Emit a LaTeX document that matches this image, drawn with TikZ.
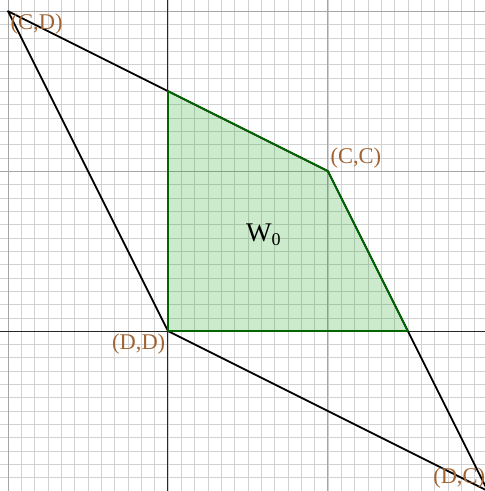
\documentclass[tikz,border=0pt]{standalone}
\usepackage{fontspec}
\setmainfont{Liberation Serif}
\usepackage{xcolor}
\usepackage{tikz}

\definecolor{payoff}{RGB}{160,100,50}
\definecolor{region}{RGB}{0,155,0}
\definecolor{regionedge}{RGB}{0,100,0}

\begin{document}
\begin{tikzpicture}[x=2.5cm, y=2.5cm,
        lbl/.style={text=payoff, inner sep=1pt}]
        \useasboundingbox (-1.05,-1.0) rectangle (1.98,2.07);
        % grid
        \draw[step=1/12, gray!35, very thin] (-1.05,-1.0) grid (1.98,2.07);
        \draw[step=1, gray!70, thin] (-1.05,-1.0) grid (1.98,2.07);
        \draw[black!85, thin] (-1.05,0) -- (1.98,0);
        \draw[black!85, thin] (0,-1.0) -- (0,2.07);
        % payoff points
        \coordinate (cd) at (-1,2);
        \coordinate (cc) at (1,1);
        \coordinate (dd) at (0,0);
        \coordinate (dc) at (2,-1);
        \coordinate (top) at (0,1.5);
        \coordinate (right) at (1.5,0);
        \draw[thick, line join=round] (cd) -- (cc) -- (dc) -- (dd) -- cycle;
        % region W_0
        \draw[fill=region, fill opacity=0.2, draw=regionedge, thick, line join=round]
            (dd) -- (top) -- (cc) -- (right) -- cycle;
        \node at (0.6,0.6) (w0) {\large W\textsubscript{0}};
        \node[lbl, anchor=north west] (lcd) at (cd) {(C,D)};
        \node[lbl, anchor=south west] (lcc) at (cc) {(C,C)};
        \node[lbl, anchor=north east] (ldd) at (dd) {(D,D)};
        \node[lbl, anchor=south east] (ldc) at (dc) {(D,C)};
    \end{tikzpicture}
\end{document}
